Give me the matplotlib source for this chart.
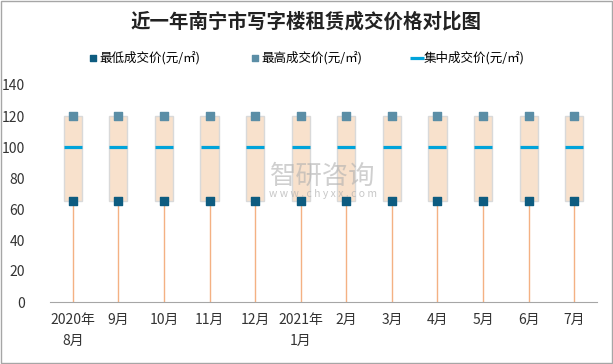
import matplotlib
matplotlib.use("Agg")
import matplotlib.pyplot as plt
import numpy as np

plt.rcParams['font.family'] = ['Noto Sans CJK SC', 'DejaVu Sans']

categories = ["2020年\n8月", "9月", "10月", "11月", "12月", "2021年\n1月", "2月", "3月", "4月", "5月", "6月", "7月"]
low_price = [65, 65, 65, 65, 65, 65, 65, 65, 65, 65, 65, 65]
high_price = [120, 120, 120, 120, 120, 120, 120, 120, 120, 120, 120, 120]
mid_price = [100, 100, 100, 100, 100, 100, 100, 100, 100, 100, 100, 100]

fig = plt.figure(figsize=(6.13, 3.64), dpi=100)
ax = fig.add_axes([50/613, 1-302/364, 547/613, 217/364])

x = np.arange(len(categories))
low = np.array(low_price)
high = np.array(high_price)
mid = np.array(mid_price)

# drop lines
ax.vlines(x, 0, low, color='#F4B183', lw=1, zorder=1)
# high-low boxes
ax.bar(x, high - low, bottom=low, width=0.4, color='#F8E1CC', edgecolor='#D9D9D9', lw=1, zorder=2)
ax.scatter(x, low, marker='s', s=30, color='#0E5C80', zorder=4, label='最低成交价(元/㎡)')
ax.scatter(x, high, marker='s', s=30, color='#5B8EA6', zorder=4, label='最高成交价(元/㎡)')
ax.scatter(x, mid, marker='_', s=150, linewidths=2.3, color='#00A3DA', zorder=4, label='集中成交价(元/㎡)')

ax.set_xlim(-0.5, len(categories) - 0.5)
ax.set_ylim(0, 140)
ax.set_yticks(np.arange(0, 141, 20))
ax.set_xticks(x)
ax.set_xticklabels(categories, fontsize=10, color='#333333', linespacing=1.6)
ax.tick_params(axis='y', labelsize=10, colors='#333333', length=0, pad=18)
ax.tick_params(axis='x', length=0, pad=8)
for s in ['top', 'right', 'left']:
    ax.spines[s].set_visible(False)
ax.spines['bottom'].set_color('#A6A6A6')

# watermark
fig.text(323/613, 1-176/364, '智研咨询', fontsize=19, color='#B0B0B0', alpha=0.6, ha='center', va='center')
fig.text(323/613, 1-194/364, 'w w w . c h y x x . c o m', fontsize=7.5, color='#B0B0B0', alpha=0.7, ha='center', va='center')

fig.text(0.5, 1-22/364, '近一年南宁市写字楼租赁成交价格对比图', fontsize=14, fontweight='bold', ha='center', va='center', color='#222222')

leg = fig.legend(loc='center', bbox_to_anchor=(0.5, 1-58/364), ncol=3, frameon=False, fontsize=9,
                 handlelength=0.7, handletextpad=0.2, columnspacing=4.0, markerscale=0.8)

# figure border
fig.patches.append(plt.Rectangle((0.002, 0.003), 0.996, 0.994, transform=fig.transFigure,
                                 fill=False, edgecolor='#A6A6A6', lw=1))

fig.savefig('out.png', dpi=100)
